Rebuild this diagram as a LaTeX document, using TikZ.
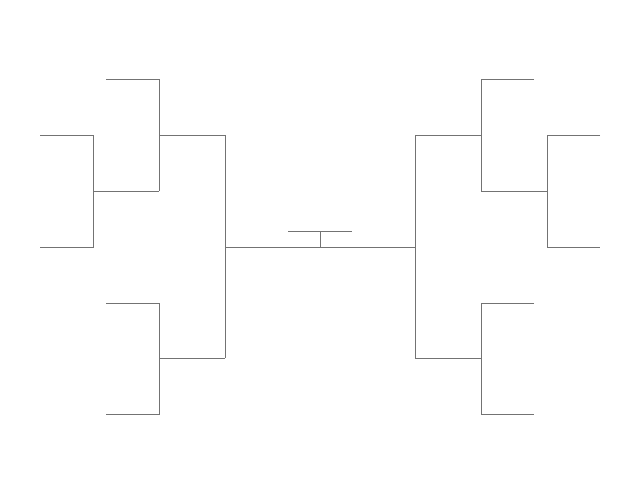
\documentclass[tikz,border=0pt]{standalone}
\begin{document}
\begin{tikzpicture}[x=1pt,y=-1pt,br/.style={draw=gray!90!black,line width=0.7pt}]
\useasboundingbox (0,0) rectangle (641,495);
\foreach \s/\o in {1/0,-1/640}{
\begin{scope}[xshift=\o pt, xscale=\s]
\draw[br] (40,135) -- (93,135) -- (93,247) -- (40,247);
\draw[br] (93,191) -- (159,191);
\draw[br] (106,79) -- (159,79) -- (159,191);
\draw[br] (159,135) -- (225,135);
\draw[br] (106,303) -- (159,303) -- (159,414) -- (106,414);
\draw[br] (159,358) -- (225,358);
\draw[br] (225,135) -- (225,358);
\end{scope}}
\draw[br] (225,247) -- (415,247);
\draw[br] (288,231) -- (352,231);
\draw[br] (320,231) -- (320,247);
\end{tikzpicture}
\end{document}
